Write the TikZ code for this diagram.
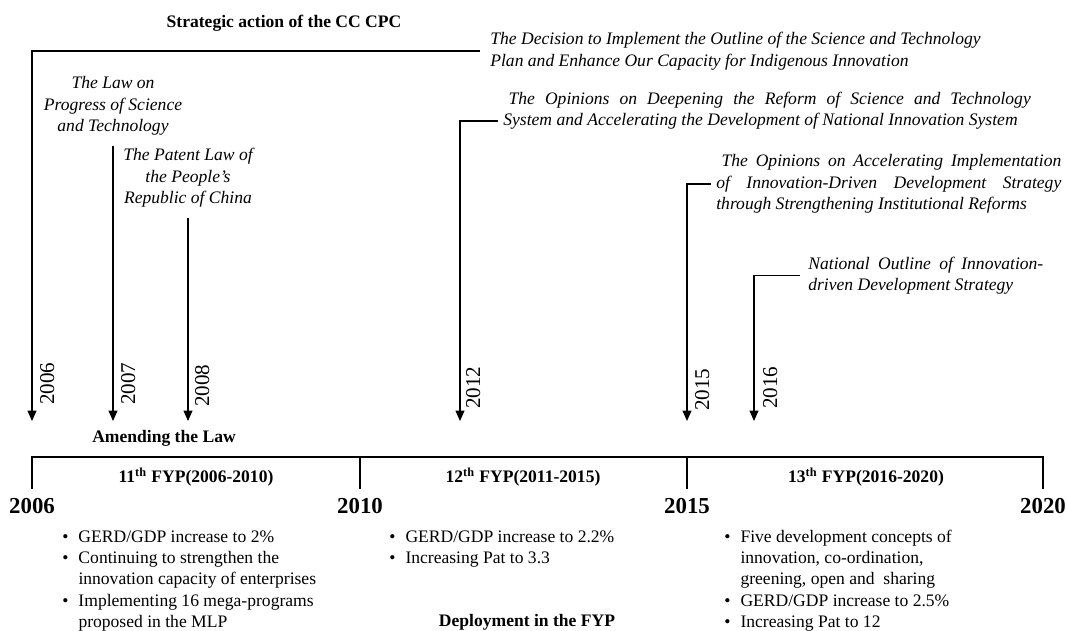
\documentclass[tikz,border=0pt]{standalone}
\usepackage{fontspec}
\setmainfont{Liberation Serif}
\usepackage{tikz}
\usetikzlibrary{positioning,arrows.meta}
\tikzset{
    actarrow/.style={draw, line width=0.8pt, -{Triangle[length=2.1mm, width=1.8mm]}},
    doctext/.style={font=\itshape\fontsize{10}{12.2}\selectfont, inner sep=0pt},
    headtext/.style={font=\bfseries\fontsize{10}{12}\selectfont, inner sep=0pt},
    yearlabel/.style={font=\fontsize{12}{14}\selectfont, rotate=90, anchor=north west, inner sep=1pt},
    timebar/.style={line width=1.6pt, line join=miter}
}

\begin{document}
\begin{tikzpicture}[
        x=0.02cm, y=-0.02cm,
        % Style cho nam cua moi ky ke hoach
        periodyear/.style={font=\bfseries\fontsize{13}{15}\selectfont, inner sep=0pt},
        % Style cho danh sach muc tieu
        listtext/.style={font=\fontsize{10}{12.2}\selectfont, inner sep=0pt, anchor=base west}
    ]
        \useasboundingbox (0,0) rectangle (1067,631);

        % --- HANH DONG CHIEN LUOC (phan tren) ---
        \node[headtext] (cctitle) at (284,23) {Strategic action of the CC CPC};

        \node[doctext, align=left, anchor=west] (decision) at (490,51)
            {The Decision to Implement the Outline of the Science and Technology\\
             Plan and Enhance Our Capacity for Indigenous Innovation};
        \node[doctext, align=center] (lawst) at (113,106)
            {The Law on\\Progress of Science\\and Technology};
        \node[doctext, align=center] (patent) at (188,178)
            {The Patent Law of\\the People’s\\Republic of China};
        \node[doctext, text width=10.55cm, align=justify, anchor=west] (deepen) at (503,110.5)
            {\hspace*{3pt}The Opinions on Deepening the Reform of Science and Technology\linebreak
             System and Accelerating the Development of National Innovation System};
        \node[doctext, text width=6.9cm, align=justify, anchor=west] (accel) at (716,184)
            {\hspace*{3pt}The Opinions on Accelerating Implementation\linebreak
             of Innovation-Driven Development Strategy\linebreak
             through Strengthening Institutional Reforms};
        \node[doctext, text width=4.7cm, align=justify, anchor=west] (natout) at (808,275.5)
            {National Outline of Innovation-\linebreak driven Development Strategy};

        % Dau mui ten (cac nam)
        \coordinate (e2006) at (32,421);
        \coordinate (e2007) at (113,421);
        \coordinate (e2008) at (188,421);
        \coordinate (e2012) at (460,421);
        \coordinate (e2015) at (687,421);
        \coordinate (e2016) at (754,421);

        \draw[actarrow] ([xshift=-0.2cm]decision.west) -| (e2006);
        \draw[actarrow] ([yshift=-0.2cm]lawst.south) -- (e2007);
        \draw[actarrow] ([yshift=-0.2cm]patent.south) -- (e2008);
        \draw[actarrow] ([xshift=-0.1cm, yshift=-0.21cm]deepen.west) -| (e2012);
        \draw[actarrow] ([xshift=-0.1cm]accel.west) -| (e2015);
        \draw[actarrow] ([xshift=-0.16cm]natout.west) -| (e2016);

        \node[yearlabel] (lbl2006) at (38,407) {2006};
        \node[yearlabel] (lbl2007) at (119,407) {2007};
        \node[yearlabel] (lbl2008) at (193,409) {2008};
        \node[yearlabel] (lbl2012) at (464,411) {2012};
        \node[yearlabel] (lbl2015) at (693,413) {2015};
        \node[yearlabel] (lbl2016) at (761,411) {2016};

        \node[headtext] (amend) at (164,438) {Amending the Law};

        % --- TRUC THOI GIAN CAC KY FYP ---
        \coordinate (b2006) at (32,457);
        \coordinate (b2010) at (360,457);
        \coordinate (b2015) at (687,457);
        \coordinate (b2020) at (1043,457);
        \draw[timebar] ([yshift=-0.64cm]b2006) -- (b2006) -- (b2020) -- ++(0,32);
        \draw[timebar] (b2010) -- ++(0,32);
        \draw[timebar] (b2015) -- ++(0,32);

        \node[headtext] (fyp11) at (196,477) {11\textsuperscript{th} FYP(2006-2010)};
        \node[headtext] (fyp12) at (523,477) {12\textsuperscript{th} FYP(2011-2015)};
        \node[headtext] (fyp13) at (866,477) {13\textsuperscript{th} FYP(2016-2020)};

        \node[periodyear] (p2006) at (32,506) {2006};
        \node[periodyear] (p2010) at (360,506) {2010};
        \node[periodyear] (p2015) at (687,506) {2015};
        \node[periodyear] (p2020) at (1043,506) {2020};

        % --- NOI DUNG TRIEN KHAI ---
        \node[listtext] (list11) at (62,542) {\begin{tabular}[t]{@{}l@{\hspace{0.2cm}}l@{}}
            \textbullet & GERD/GDP increase to 2\% \\
            \textbullet & Continuing to strengthen the \\
                        & innovation capacity of enterprises \\
            \textbullet & Implementing 16 mega-programs \\
                        & proposed in the MLP
        \end{tabular}};
        \node[listtext] (list12) at (389,542) {\begin{tabular}[t]{@{}l@{\hspace{0.2cm}}l@{}}
            \textbullet & GERD/GDP increase to 2.2\% \\
            \textbullet & Increasing Pat to 3.3
        \end{tabular}};
        \node[listtext] (list13) at (724,542) {\begin{tabular}[t]{@{}l@{\hspace{0.2cm}}l@{}}
            \textbullet & Five development concepts of \\
                        & innovation, co-ordination, \\
                        & greening, open and\ \ sharing \\
            \textbullet & GERD/GDP increase to 2.5\% \\
            \textbullet & Increasing Pat to 12
        \end{tabular}};

        \node[headtext] (deploy) at (527,622) {Deployment in the FYP};
    \end{tikzpicture}
\end{document}
